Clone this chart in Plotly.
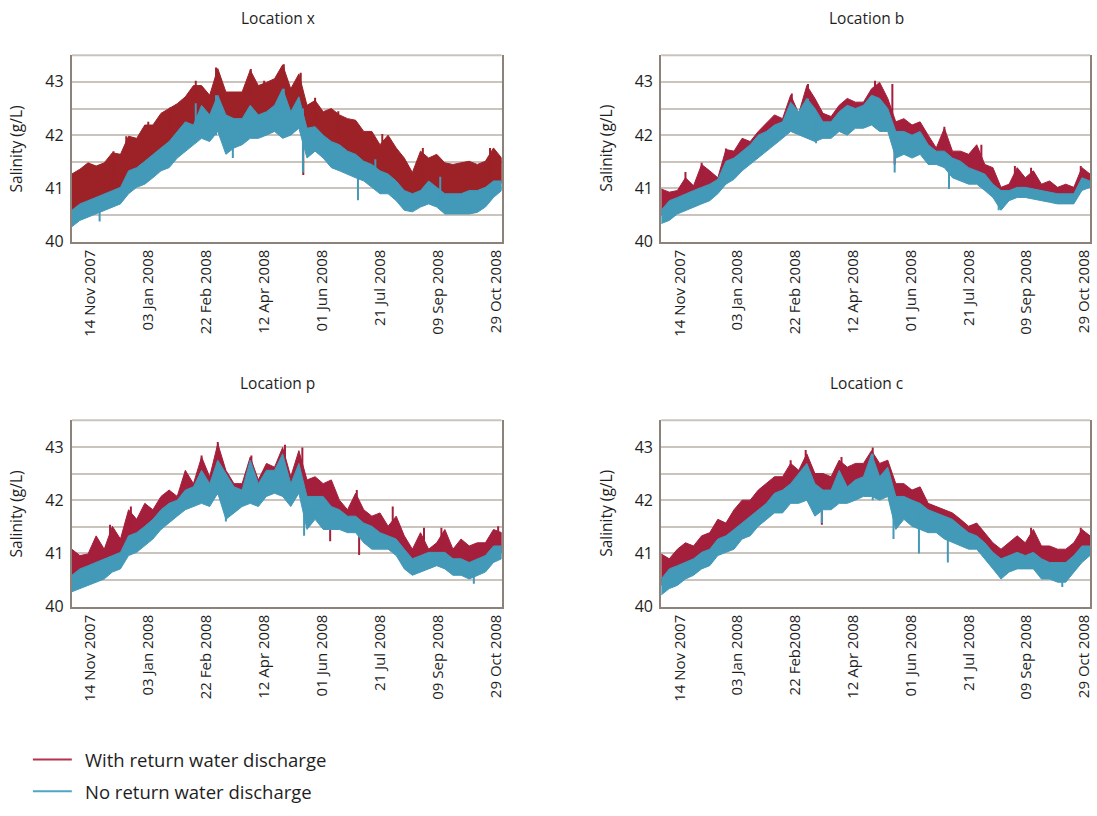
import pandas as pd
import plotly.graph_objects as go

# ---------------------------------------------------------------------------
# Salinity envelopes (g/L), sampled weekly from 29 Oct 2007 to 03 Nov 2008.
# Each series is stored as its upper and lower envelope, plus the short
# excursions (day offset from the first sample, low, high) that stand out
# from the envelope.
# ---------------------------------------------------------------------------
START = pd.Timestamp("2007-10-29")
sample_dates = pd.date_range(START, periods=54, freq="7D")

# Location x
x_with_hi = [41.27, 41.36, 41.48, 41.42, 41.48, 41.67, 41.64, 41.98, 41.94, 42.19,
             42.19, 42.41, 42.50, 42.59, 42.72, 42.93, 42.93, 42.75, 43.25, 42.81,
             42.81, 42.81, 43.22, 42.93, 42.99, 43.06, 43.32, 42.87, 43.15, 42.56,
             42.65, 42.44, 42.50, 42.38, 42.31, 42.28, 42.07, 42.07, 41.82, 42.00,
             41.76, 41.57, 41.30, 41.70, 41.57, 41.64, 41.48, 41.45, 41.48, 41.51,
             41.45, 41.51, 41.76, 41.57]
x_with_lo = [40.50, 40.65, 40.72, 40.80, 40.85, 40.92, 40.98, 41.25, 41.32, 41.45,
             41.58, 41.70, 41.82, 42.00, 42.18, 42.12, 42.45, 42.30, 42.65, 42.30,
             42.25, 42.25, 42.48, 42.30, 42.38, 42.48, 42.75, 42.38, 42.65, 42.05,
             42.10, 41.95, 41.82, 41.75, 41.65, 41.58, 41.45, 41.40, 41.28, 41.22,
             41.10, 40.92, 40.85, 40.92, 41.08, 40.98, 40.85, 40.85, 40.85, 40.92,
             40.92, 40.98, 41.08, 41.10]
x_none_hi = [40.59, 40.71, 40.77, 40.83, 40.90, 40.96, 41.02, 41.33, 41.39, 41.51,
             41.64, 41.76, 41.88, 42.07, 42.25, 42.19, 42.56, 42.38, 42.75, 42.38,
             42.31, 42.31, 42.56, 42.38, 42.44, 42.56, 42.87, 42.44, 42.72, 42.13,
             42.16, 42.00, 41.88, 41.82, 41.70, 41.64, 41.51, 41.45, 41.33, 41.27,
             41.14, 40.96, 40.90, 40.96, 41.14, 41.02, 40.90, 40.90, 40.90, 40.96,
             40.96, 41.02, 41.14, 41.14]
x_none_lo = [40.28, 40.40, 40.46, 40.52, 40.59, 40.65, 40.71, 40.90, 41.02, 41.08,
             41.20, 41.33, 41.39, 41.57, 41.70, 41.82, 41.94, 41.88, 42.07, 41.64,
             41.76, 41.82, 41.94, 41.94, 42.00, 42.07, 41.94, 42.00, 42.13, 41.57,
             41.70, 41.57, 41.39, 41.33, 41.27, 41.20, 41.14, 41.02, 40.90, 40.90,
             40.77, 40.59, 40.56, 40.65, 40.71, 40.65, 40.52, 40.52, 40.52, 40.52,
             40.55, 40.65, 40.83, 40.96]
x_with_spike_day = [36, 47, 66, 85, 107, 124.5, 154.5, 166, 183, 197.6, 199.8, 210, 230, 268, 303, 361]
x_with_spike_lo = [41.10, 41.40, 41.75, 42.00, 42.40, 42.70, 42.70, 42.50, 42.80, 42.70, 41.25, 42.10, 41.90, 41.50, 41.10, 41.20]
x_with_spike_hi = [41.70, 41.98, 42.25, 42.52, 43.02, 43.27, 43.24, 43.02, 43.33, 43.17, 42.60, 42.70, 42.45, 42.02, 41.76, 41.76]
x_none_spike_day = [24, 107, 124.5, 139, 183, 199.5, 247, 262, 318]
x_none_spike_lo = [40.38, 41.90, 42.00, 41.57, 41.95, 41.30, 40.78, 41.00, 40.70]
x_none_spike_hi = [40.80, 42.60, 42.75, 42.20, 42.87, 42.50, 41.50, 41.55, 41.22]

# Location b
b_with_hi = [40.99, 40.93, 40.96, 41.20, 41.05, 41.45, 41.33, 41.20, 41.73, 41.70,
             41.94, 41.88, 42.07, 42.22, 42.38, 42.31, 42.75, 42.41, 42.93, 42.69,
             42.41, 42.35, 42.56, 42.69, 42.62, 42.62, 42.87, 42.99, 42.69, 42.25,
             42.31, 42.19, 42.25, 42.00, 41.76, 42.13, 41.70, 41.70, 41.64, 41.82,
             41.45, 41.39, 41.02, 41.08, 41.39, 41.20, 41.33, 41.08, 41.14, 41.02,
             41.08, 41.02, 41.39, 41.27]
b_with_lo = [40.50, 40.65, 40.72, 40.78, 40.85, 40.90, 40.96, 41.05, 41.40, 41.45,
             41.58, 41.70, 41.88, 41.95, 42.07, 42.13, 42.50, 42.32, 42.57, 42.38,
             42.13, 42.13, 42.32, 42.44, 42.38, 42.44, 42.63, 42.57, 42.38, 41.95,
             41.95, 41.88, 41.95, 41.70, 41.58, 41.58, 41.45, 41.40, 41.27, 41.21,
             41.15, 40.96, 40.84, 40.84, 40.90, 40.90, 40.87, 40.84, 40.81, 40.78,
             40.78, 40.78, 41.08, 41.02]
b_none_hi = [40.59, 40.77, 40.83, 40.90, 40.96, 41.02, 41.08, 41.17, 41.51, 41.57,
             41.70, 41.82, 42.00, 42.07, 42.19, 42.25, 42.62, 42.44, 42.69, 42.50,
             42.25, 42.25, 42.44, 42.56, 42.50, 42.56, 42.75, 42.69, 42.50, 42.07,
             42.07, 42.00, 42.07, 41.82, 41.70, 41.70, 41.57, 41.51, 41.39, 41.33,
             41.27, 41.08, 40.96, 40.96, 41.02, 41.02, 40.99, 40.96, 40.93, 40.90,
             40.90, 40.90, 41.20, 41.14]
b_none_lo = [40.34, 40.40, 40.52, 40.59, 40.65, 40.71, 40.77, 40.90, 41.08, 41.17,
             41.33, 41.45, 41.57, 41.70, 41.82, 41.94, 42.07, 42.00, 41.94, 41.88,
             41.94, 41.94, 42.07, 42.00, 42.13, 42.13, 42.19, 42.07, 42.07, 41.57,
             41.64, 41.57, 41.64, 41.45, 41.45, 41.39, 41.20, 41.14, 41.08, 41.08,
             40.96, 40.83, 40.59, 40.77, 40.83, 40.83, 40.80, 40.77, 40.74, 40.71,
             40.71, 40.71, 40.96, 41.02]
b_with_spike_day = [21, 35, 56, 113, 127, 185, 200, 202, 245, 277, 306, 320, 363]
b_with_spike_lo = [40.90, 41.00, 41.30, 42.30, 42.40, 42.50, 42.40, 41.45, 41.70, 41.30, 41.00, 40.95, 41.10]
b_with_spike_hi = [41.31, 41.48, 41.75, 42.78, 42.96, 43.02, 42.96, 42.10, 42.16, 41.82, 41.42, 41.39, 41.42]
b_none_spike_day = [127, 134, 202, 249, 292]
b_none_spike_lo = [42.10, 41.85, 41.30, 40.99, 40.59]
b_none_spike_hi = [42.69, 42.40, 42.00, 41.50, 40.95]

# Location p
p_with_hi = [41.08, 40.96, 40.99, 41.33, 41.08, 41.51, 41.27, 41.82, 41.64, 41.94,
             41.82, 42.07, 42.19, 42.07, 42.56, 42.31, 42.81, 42.44, 43.06, 42.56,
             42.31, 42.31, 42.81, 42.38, 42.69, 42.62, 42.99, 42.44, 42.93, 42.38,
             42.44, 42.31, 42.38, 42.00, 41.82, 42.13, 41.82, 41.70, 41.76, 41.51,
             41.70, 41.33, 41.08, 41.39, 41.08, 41.20, 41.45, 41.08, 41.27, 41.14,
             41.20, 41.20, 41.45, 41.39]
p_with_lo = [40.47, 40.59, 40.65, 40.71, 40.78, 40.84, 40.90, 41.21, 41.27, 41.39,
             41.52, 41.70, 41.82, 41.88, 42.07, 42.13, 42.44, 42.19, 42.63, 42.38,
             42.13, 42.07, 42.63, 42.19, 42.44, 42.44, 42.75, 42.19, 42.57, 41.95,
             41.95, 41.95, 41.76, 41.70, 41.58, 41.58, 41.45, 41.39, 41.27, 41.21,
             41.15, 40.96, 40.78, 40.84, 40.90, 40.90, 40.90, 40.78, 40.78, 40.71,
             40.78, 40.84, 41.02, 41.02]
p_none_hi = [40.59, 40.71, 40.77, 40.83, 40.90, 40.96, 41.02, 41.33, 41.39, 41.51,
             41.64, 41.82, 41.94, 42.00, 42.19, 42.25, 42.56, 42.31, 42.75, 42.50,
             42.25, 42.19, 42.75, 42.31, 42.56, 42.56, 42.87, 42.31, 42.69, 42.07,
             42.07, 42.07, 41.88, 41.82, 41.70, 41.70, 41.57, 41.51, 41.39, 41.33,
             41.27, 41.08, 40.90, 40.96, 41.02, 41.02, 41.02, 40.90, 40.90, 40.83,
             40.90, 40.96, 41.14, 41.14]
p_none_lo = [40.28, 40.34, 40.40, 40.46, 40.52, 40.65, 40.71, 40.96, 41.02, 41.14,
             41.27, 41.45, 41.57, 41.70, 41.82, 41.88, 41.94, 41.88, 42.13, 41.64,
             41.76, 41.88, 41.94, 41.88, 42.07, 42.13, 42.07, 41.88, 42.13, 41.45,
             41.64, 41.45, 41.45, 41.45, 41.39, 41.39, 41.20, 41.08, 41.08, 41.08,
             40.96, 40.71, 40.59, 40.65, 40.71, 40.77, 40.71, 40.59, 40.59, 40.52,
             40.59, 40.65, 40.83, 40.90]
p_with_spike_day = [33, 51, 112, 126, 155, 184, 199, 223, 246, 248, 277, 304, 319, 368]
p_with_spike_lo = [41.00, 41.40, 42.40, 42.50, 42.40, 42.60, 42.50, 41.23, 41.70, 40.97, 41.30, 41.00, 41.00, 41.10]
p_with_spike_hi = [41.54, 41.88, 42.84, 43.09, 42.84, 43.04, 42.99, 41.90, 42.19, 41.50, 41.88, 41.48, 41.48, 41.51]
p_none_spike_day = [126, 133, 200.5, 347]
p_none_spike_lo = [42.10, 41.60, 41.33, 40.43]
p_none_spike_hi = [42.72, 42.20, 42.20, 40.80]

# Location c
c_with_hi = [40.99, 40.90, 41.08, 41.20, 41.14, 41.33, 41.39, 41.64, 41.57, 41.82,
             42.00, 42.00, 42.19, 42.31, 42.44, 42.44, 42.69, 42.56, 42.87, 42.50,
             42.50, 42.44, 42.75, 42.62, 42.69, 42.69, 42.93, 42.69, 42.75, 42.31,
             42.31, 42.19, 42.25, 41.94, 41.88, 41.82, 41.76, 41.64, 41.51, 41.57,
             41.39, 41.20, 41.08, 41.20, 41.33, 41.20, 41.45, 41.14, 41.14, 41.08,
             41.08, 41.20, 41.45, 41.33]
c_with_lo = [40.40, 40.59, 40.65, 40.71, 40.78, 40.90, 40.96, 41.15, 41.21, 41.33,
             41.45, 41.58, 41.70, 41.82, 42.01, 42.07, 42.19, 42.38, 42.57, 42.19,
             42.07, 42.07, 42.44, 42.13, 42.26, 42.32, 42.75, 42.32, 42.50, 41.95,
             41.95, 41.88, 41.82, 41.70, 41.64, 41.58, 41.52, 41.39, 41.27, 41.21,
             41.08, 40.90, 40.78, 40.84, 40.90, 40.84, 40.90, 40.78, 40.71, 40.71,
             40.71, 40.84, 41.02, 41.02]
c_none_hi = [40.52, 40.71, 40.77, 40.83, 40.90, 41.02, 41.08, 41.27, 41.33, 41.45,
             41.57, 41.70, 41.82, 41.94, 42.13, 42.19, 42.31, 42.50, 42.69, 42.31,
             42.19, 42.19, 42.56, 42.25, 42.38, 42.44, 42.87, 42.44, 42.62, 42.07,
             42.07, 42.00, 41.94, 41.82, 41.76, 41.70, 41.64, 41.51, 41.39, 41.33,
             41.20, 41.02, 40.90, 40.96, 41.02, 40.96, 41.02, 40.90, 40.83, 40.83,
             40.83, 40.96, 41.14, 41.14]
c_none_lo = [40.22, 40.34, 40.40, 40.52, 40.59, 40.71, 40.77, 40.96, 41.02, 41.08,
             41.27, 41.33, 41.51, 41.64, 41.76, 41.76, 41.94, 41.94, 42.00, 41.70,
             41.82, 41.82, 41.94, 41.94, 42.00, 42.07, 42.07, 42.00, 42.07, 41.45,
             41.64, 41.51, 41.45, 41.39, 41.39, 41.27, 41.20, 41.14, 41.08, 41.08,
             40.90, 40.71, 40.52, 40.65, 40.71, 40.71, 40.71, 40.52, 40.52, 40.46,
             40.46, 40.65, 40.83, 40.96]
c_with_spike_day = [112, 125, 139, 156, 183, 320, 363]
c_with_spike_lo = [42.30, 42.40, 41.54, 42.40, 42.50, 41.00, 41.10]
c_with_spike_hi = [42.75, 42.94, 42.30, 42.81, 42.99, 41.48, 41.48]
c_none_spike_day = [139, 183, 201, 223, 248, 347]
c_none_spike_lo = [41.57, 42.00, 41.27, 41.00, 40.83, 40.37]
c_none_spike_hi = [42.10, 42.87, 42.10, 41.80, 41.50, 40.80]

# Axis ticks
tick_dates = pd.date_range("2007-11-14", periods=8, freq="50D")
tick_text = ["14 Nov 2007", "03 Jan 2008", "22 Feb 2008", "12 Apr 2008",
             "01 Jun 2008", "21 Jul 2008", "09 Sep 2008", "29 Oct 2008"]
tick_text_c = ["14 Nov 2007", "03 Jan 2008", "22 Feb2008", "12 Apr 2008",
               "01 Jun 2008", "21 Jul 2008", "09 Sep 2008", "29 Oct 2008"]
y_tick_vals = [40, 40.5, 41, 41.5, 42, 42.5, 43, 43.5]
y_tick_text = ["40", "", "41", "", "42", "", "43", ""]

series_names = ["With return water discharge", "No return water discharge"]

# ---------------------------------------------------------------------------
# Styling
# ---------------------------------------------------------------------------
W, H = 1097, 816
FONT = "Open Sans, Noto Sans, DejaVu Sans, sans-serif"
TEXT = "#1e1e1e"
GRID = "#cbc4bd"
FRAME = "#8c8279"
RED_X = "#9c2228"
RED = "#a41f3b"
BLUE = "#4399b8"
LEG_RED = "#b7304c"
LEG_BLUE = "#4fa5c4"

# pixel boxes of the four plot areas: (left, right, top, bottom)
panels = [
    dict(name="Location x", box=(72, 503, 56, 245), title_y=18, red=RED_X, ticks=tick_text,
         with_=(x_with_hi, x_with_lo, x_with_spike_day, x_with_spike_lo, x_with_spike_hi),
         none=(x_none_hi, x_none_lo, x_none_spike_day, x_none_spike_lo, x_none_spike_hi)),
    dict(name="Location b", box=(663, 1093, 56, 245), title_y=18, red=RED, ticks=tick_text,
         with_=(b_with_hi, b_with_lo, b_with_spike_day, b_with_spike_lo, b_with_spike_hi),
         none=(b_none_hi, b_none_lo, b_none_spike_day, b_none_spike_lo, b_none_spike_hi)),
    dict(name="Location p", box=(72, 503, 426, 615), title_y=388, red=RED, ticks=tick_text,
         with_=(p_with_hi, p_with_lo, p_with_spike_day, p_with_spike_lo, p_with_spike_hi),
         none=(p_none_hi, p_none_lo, p_none_spike_day, p_none_spike_lo, p_none_spike_hi)),
    dict(name="Location c", box=(663, 1093, 426, 615), title_y=388, red=RED, ticks=tick_text_c,
         with_=(c_with_hi, c_with_lo, c_with_spike_day, c_with_spike_lo, c_with_spike_hi),
         none=(c_none_hi, c_none_lo, c_none_spike_day, c_none_spike_lo, c_none_spike_hi)),
]


def band(hi, lo, color, xa, ya, name):
    xs = list(sample_dates) + list(sample_dates[::-1])
    ys = list(hi) + list(lo[::-1])
    return go.Scatter(x=xs, y=ys, mode="lines", fill="toself", fillcolor=color,
                      line=dict(color=color, width=1), xaxis=xa, yaxis=ya,
                      name=name, showlegend=False, hoverinfo="skip")


def strokes(days, lows, highs, color, xa, ya, name):
    xs, ys = [], []
    for d, lo, hi in zip(days, lows, highs):
        t = START + pd.Timedelta(days=d)
        xs += [t, t, None]
        ys += [lo, hi, None]
    return go.Scatter(x=xs, y=ys, mode="lines", line=dict(color=color, width=2),
                      xaxis=xa, yaxis=ya, name=name, showlegend=False,
                      hoverinfo="skip", connectgaps=False)


fig = go.Figure()
layout = dict(width=W, height=H, margin=dict(l=0, r=0, t=0, b=0),
              paper_bgcolor="white", plot_bgcolor="white",
              font=dict(family=FONT, color=TEXT), showlegend=False)
annotations = []
shapes = []

x_range = [sample_dates[0], sample_dates[-1]]

for i, p in enumerate(panels, start=1):
    xa = "x" if i == 1 else f"x{i}"
    ya = "y" if i == 1 else f"y{i}"
    l, r, t, b = p["box"]
    w_hi, w_lo, w_sd, w_sl, w_sh = p["with_"]
    n_hi, n_lo, n_sd, n_sl, n_sh = p["none"]
    fig.add_trace(band(w_hi, w_lo, p["red"], xa, ya, series_names[0]))
    fig.add_trace(strokes(w_sd, w_sl, w_sh, p["red"], xa, ya, series_names[0]))
    fig.add_trace(band(n_hi, n_lo, BLUE, xa, ya, series_names[1]))
    fig.add_trace(strokes(n_sd, n_sl, n_sh, BLUE, xa, ya, series_names[1]))

    xkey = "xaxis" if i == 1 else f"xaxis{i}"
    ykey = "yaxis" if i == 1 else f"yaxis{i}"
    layout[xkey] = dict(
        domain=[l / W, r / W], anchor=ya, range=x_range, type="date",
        tickvals=list(tick_dates), ticktext=p["ticks"], tickangle=-90,
        tickfont=dict(size=15, family=FONT, color=TEXT),
        showgrid=False, zeroline=False, showline=True, linecolor=FRAME,
        linewidth=2, ticks="", ticklabelstandoff=0,
    )
    layout[ykey] = dict(
        domain=[1 - b / H, 1 - t / H], anchor=xa, range=[40, 43.5],
        tickvals=y_tick_vals, ticktext=y_tick_text,
        tickfont=dict(size=16, family=FONT, color=TEXT),
        showgrid=True, gridcolor=GRID, gridwidth=2, zeroline=False,
        showline=True, mirror=True, linecolor=FRAME, linewidth=2, ticks="",
        ticklabelstandoff=3,
    )
    # light rule closing the top of the plot area
    shapes.append(dict(type="line", xref=f"{xa} domain", yref=f"{ya} domain",
                       x0=0, x1=1, y0=1, y1=1, line=dict(color=GRID, width=2),
                       layer="below"))
    # panel title
    annotations.append(dict(text=p["name"], x=((l + r) / 2 - 9) / W, y=1 - p["title_y"] / H,
                            xref="paper", yref="paper", showarrow=False,
                            xanchor="center", yanchor="middle",
                            font=dict(size=15.5, family=FONT, color=TEXT)))
    # y-axis title
    annotations.append(dict(text="Salinity (g/L)", textangle=-90,
                            x=(l - 55) / W, y=1 - ((t + b) / 2) / H,
                            xref="paper", yref="paper", showarrow=False,
                            xanchor="center", yanchor="middle",
                            font=dict(size=15.5, family=FONT, color=TEXT)))

# legend
legend_items = [(series_names[0], LEG_RED, 770), (series_names[1], LEG_BLUE, 802)]
for label, color, yy in legend_items:
    shapes.append(dict(type="line", xref="paper", yref="paper",
                       x0=33 / W, x1=72 / W, y0=1 - yy / H, y1=1 - yy / H,
                       line=dict(color=color, width=2)))
    annotations.append(dict(text=label, x=83 / W, y=1 - yy / H, xref="paper", yref="paper",
                            showarrow=False, xanchor="left", yanchor="middle",
                            font=dict(size=18.5, family=FONT, color=TEXT)))

layout["annotations"] = annotations
layout["shapes"] = shapes
fig.update_layout(**layout)
fig.write_html("out.html")
